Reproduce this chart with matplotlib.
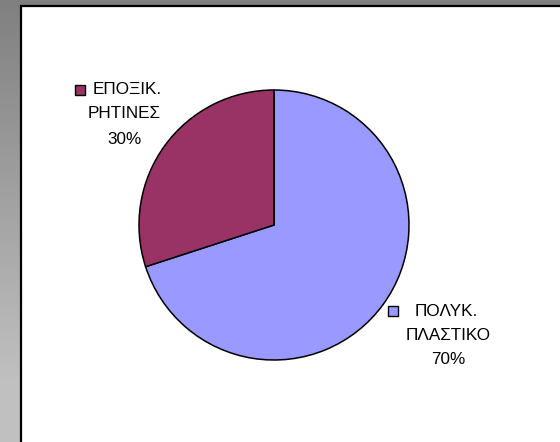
import matplotlib
matplotlib.use("Agg")
import matplotlib.pyplot as plt
import numpy as np
from matplotlib.patches import Rectangle

# --- data
labels = ["ΠΟΛΥΚ.\nΠΛΑΣΤΙΚΟ", "ΕΠΟΞΙΚ.\nΡΗΤΙΝΕΣ"]
values = [70, 30]
colors = ["#9999FF", "#993366"]

W, H = 560, 442
fig = plt.figure(figsize=(W / 100, H / 100), dpi=100)

# background: grey gradient + white chart area (pixel coordinates)
bg = fig.add_axes([0, 0, 1, 1])
bg.set_xlim(0, W)
bg.set_ylim(H, 0)
bg.axis("off")
rows = np.clip(128 + 64 * np.arange(H) / 380.0, 128, 192) / 255.0
grad = np.repeat(rows[:, None], 2, axis=1)
bg.imshow(np.dstack([grad, grad, grad]), extent=(0, W, H, 0), aspect="auto", zorder=0)
bg.add_patch(Rectangle((20.5, 5.5), W, H, facecolor="white", edgecolor="black",
                       linewidth=1.6, zorder=1))

# pie, centre (274, 225), radius 135 px
cx, cy, r = 274, 225, 135
ax = fig.add_axes([(cx - r) / W, 1 - (cy + r) / H, 2 * r / W, 2 * r / H])
ax.pie(values, colors=colors, startangle=90, counterclock=False,
       wedgeprops=dict(edgecolor="black", linewidth=1.1))
ax.set_xlim(-1, 1)
ax.set_ylim(-1, 1)
ax.axis("off")

# data labels with legend keys
font = dict(family="Liberation Sans", fontsize=12.3, color="black", zorder=3)
# (centre x, first line y, key x, first line left x)
label_pos = [(448, 311, 393.5, 415), (124.5, 90, 80, 93)]
for (lab, val, col), (tx, ty, kx, fx) in zip(zip(labels, values, colors), label_pos):
    first, second = lab.split("\n")
    bg.add_patch(Rectangle((kx - 5.5, ty - 5), 10, 10, facecolor=col,
                           edgecolor="black", linewidth=1.0, zorder=3))
    bg.text(fx, ty, first, ha="left", va="center", **font)
    bg.text(tx, ty + 24, second, ha="center", va="center", **font)
    bg.text(tx, ty + 49, f"{val}%", ha="center", va="center", **font)

fig.savefig("out.png", dpi=100)
